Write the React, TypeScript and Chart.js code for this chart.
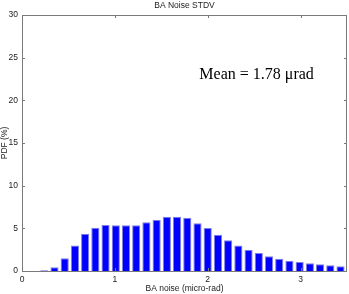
import React, { useEffect, useRef } from 'react';
import { Chart, registerables } from 'chart.js';

Chart.register(...registerables);

const binCenters = [
  0.24, 0.35, 0.46, 0.57, 0.68, 0.79, 0.9, 1.01, 1.12, 1.23,
  1.34, 1.45, 1.56, 1.67, 1.78, 1.89, 2.0, 2.11, 2.22, 2.33,
  2.44, 2.55, 2.66, 2.77, 2.88, 2.99, 3.1, 3.21, 3.32, 3.43,
];
const pdfValues = [
  0.08, 0.45, 1.5, 3.0, 4.37, 5.08, 5.4, 5.35, 5.35, 5.35,
  5.7, 6.0, 6.35, 6.35, 6.25, 5.6, 5.05, 4.25, 3.6, 3.0,
  2.5, 2.1, 1.72, 1.45, 1.2, 1.05, 0.9, 0.78, 0.66, 0.55,
];
const xTicks = [0, 1, 2, 3];
const yTicks = [0, 5, 10, 15, 20, 25, 30];
const chartTitle = 'BA Noise STDV';
const xTitle = 'BA noise (micro-rad)';
const yTitle = 'PDF (%)';
const meanLabel = 'Mean = 1.78 \u03bcrad';
const meanAnchor = { x: 1.91, y: 22.5 };

const SANS = '"Liberation Sans", Arial, Helvetica, sans-serif';
const SERIF = '"Liberation Serif", "Times New Roman", serif';

const decorPlugin = {
  id: 'matlabDecor',
  afterDraw(chart: any) {
    const { ctx, chartArea } = chart;
    const xs = chart.scales.x;
    const ys = chart.scales.y;
    const { left, right, top, bottom } = chartArea;
    ctx.save();
    ctx.strokeStyle = '#7a7a7a';
    ctx.lineWidth = 1;
    ctx.beginPath();
    ctx.rect(Math.round(left) + 0.5, Math.round(top) + 0.5, Math.round(right - left) - 1, Math.round(bottom - top));
    ctx.stroke();
    const tl = 3;
    ctx.beginPath();
    xTicks.forEach((v) => {
      const px = Math.round(xs.getPixelForValue(v)) + 0.5;
      ctx.moveTo(px, bottom);
      ctx.lineTo(px, bottom - tl);
      ctx.moveTo(px, top);
      ctx.lineTo(px, top + tl);
    });
    yTicks.forEach((v) => {
      const py = Math.round(ys.getPixelForValue(v)) + 0.5;
      ctx.moveTo(left, py);
      ctx.lineTo(left + tl, py);
      ctx.moveTo(right, py);
      ctx.lineTo(right - tl, py);
    });
    ctx.stroke();

    ctx.fillStyle = '#222';
    ctx.font = `8.5px ${SANS}`;
    ctx.textAlign = 'center';
    ctx.textBaseline = 'middle';
    ctx.fillText(chartTitle, (left + right) / 2, 6);

    ctx.font = `16px ${SERIF}`;
    ctx.fillStyle = '#000';
    ctx.textAlign = 'left';
    ctx.textBaseline = 'alphabetic';
    ctx.fillText(meanLabel, xs.getPixelForValue(meanAnchor.x), ys.getPixelForValue(meanAnchor.y));
    ctx.restore();
  },
};

export default function App() {
  const ref = useRef<HTMLCanvasElement | null>(null);

  useEffect(() => {
    if (!ref.current) return;
    const chart = new Chart(ref.current, {
      type: 'bar',
      data: {
        datasets: [
          {
            data: binCenters.map((x, i) => ({ x, y: pdfValues[i] })),
            backgroundColor: '#0000ff',
            borderColor: '#8080e0',
            borderWidth: 1,
            barPercentage: 0.8,
            categoryPercentage: 1,
          },
        ],
      },
      options: {
        animation: false,
        responsive: false,
        devicePixelRatio: 1,
        layout: { padding: { top: 15, left: 0, right: 2, bottom: 0 } },
        plugins: {
          legend: { display: false },
          tooltip: { enabled: false },
          title: { display: false },
        },
        scales: {
          x: {
            type: 'linear',
            min: 0,
            max: 3.5,
            offset: false,
            grid: { display: false, drawTicks: false, offset: false },
            border: { display: false },
            afterBuildTicks: (s: any) => {
              s.ticks = xTicks.map((v) => ({ value: v }));
            },
            afterFit: (s: any) => {
              s.height = 23;
            },
            ticks: {
              padding: 4,
              color: '#222',
              font: { family: SANS, size: 8.5 },
              maxRotation: 0,
              autoSkip: false,
            },
            title: {
              display: true,
              text: xTitle,
              color: '#222',
              font: { family: SANS, size: 8.5 },
              padding: { top: 0, bottom: 0 },
            },
          },
          y: {
            type: 'linear',
            min: 0,
            max: 30,
            grid: { display: false, drawTicks: false },
            border: { display: false },
            afterBuildTicks: (s: any) => {
              s.ticks = yTicks.map((v) => ({ value: v }));
            },
            afterFit: (s: any) => {
              s.width = 22;
            },
            ticks: {
              padding: 4,
              color: '#222',
              font: { family: SANS, size: 8.5 },
            },
            title: {
              display: true,
              text: yTitle,
              color: '#222',
              font: { family: SANS, size: 8.5 },
              padding: { top: 0, bottom: 0 },
            },
          },
        },
      },
      plugins: [decorPlugin],
    } as any);
    return () => chart.destroy();
  }, []);

  return (
    <div style={{ position: 'fixed', left: 0, top: 0, width: 349, height: 294, background: '#fff' }}>
      <canvas ref={ref} width={349} height={294} style={{ display: 'block', width: 349, height: 294 }} />
    </div>
  );
}
